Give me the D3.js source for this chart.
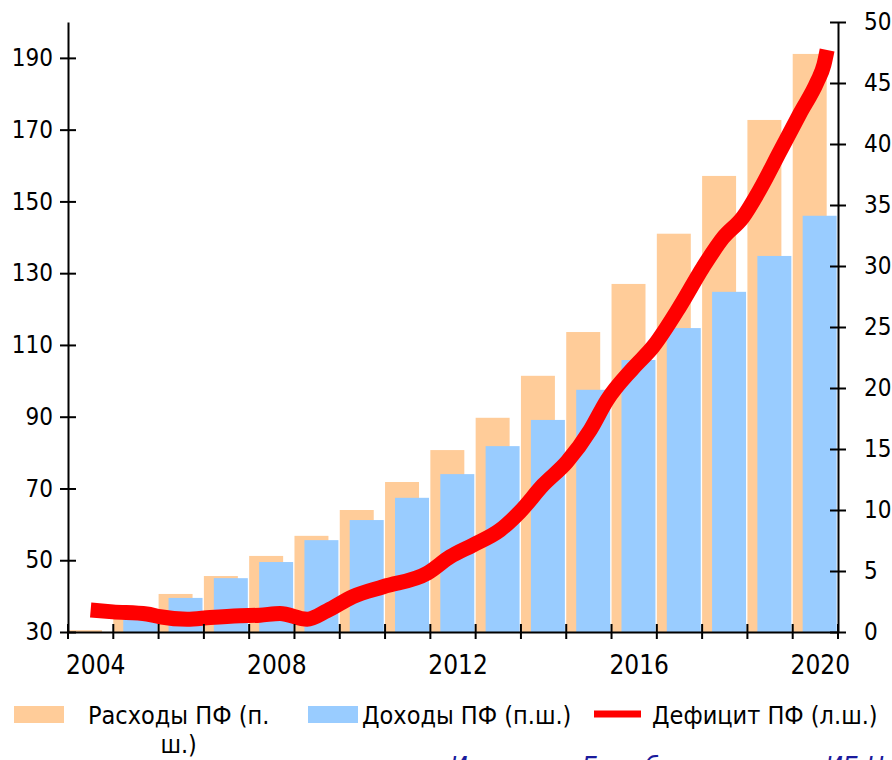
<!DOCTYPE html>
<html>
<head>
<meta charset="utf-8">
<script src="https://cdn.jsdelivr.net/npm/d3@7"></script>
<style>
  body { margin: 0; background: #fff; }
  svg text { font-family: "DejaVu Sans Condensed", "DejaVu Sans", sans-serif; fill: #000; }
</style>
</head>
<body>
<svg id="chart" width="892" height="760"></svg>
<script>
// Pension fund: expenses and revenues (right axis), deficit (left axis)
const years = [2004, 2005, 2006, 2007, 2008, 2009, 2010, 2011, 2012, 2013, 2014, 2015, 2016, 2017, 2018, 2019, 2020];
const expenses = [30.5, 36.5, 40.6, 45.6, 51.2, 56.8, 64.0, 71.8, 80.7, 89.7, 101.4, 113.6, 127.0, 141.0, 157.1, 172.7, 191.1];
const revenues = [29.0, 35.0, 39.5, 45.0, 49.5, 55.6, 61.2, 67.4, 74.0, 81.8, 89.1, 97.5, 105.8, 114.7, 124.8, 134.8, 146.0];

// Deficit, sampled along the time axis (fractional years)
const deficitTime  = [2004.0, 2004.49, 2005.24, 2005.53, 2006.13, 2006.64, 2007.30, 2007.74, 2008.18, 2008.78, 2009.22, 2009.79, 2010.46, 2011.43, 2011.94, 2012.44, 2013.04, 2013.48, 2013.99, 2014.52, 2015.03, 2015.40, 2015.97, 2016.42, 2017.01, 2017.52, 2017.96, 2018.40, 2018.78, 2019.22, 2019.66, 2020.04, 2020.19, 2020.26];
const deficitValue = [1.80, 1.65, 1.48, 1.25, 1.05, 1.19, 1.33, 1.38, 1.52, 1.05, 1.74, 2.90, 3.71, 4.81, 6.17, 7.13, 8.36, 9.86, 12.05, 13.96, 16.56, 19.0, 21.6, 23.4, 26.7, 29.9, 32.3, 34.0, 36.3, 39.4, 42.5, 45.1, 46.5, 47.7];

const leftTicks = [30, 50, 70, 90, 110, 130, 150, 170, 190];
const rightTicks = [0, 5, 10, 15, 20, 25, 30, 35, 40, 45, 50];
const yearLabels = [2004, 2008, 2012, 2016, 2020];

const legendItems = [
  { kind: "rect", color: "#FFCC99", lines: ["Расходы ПФ (п.", "ш.)"] },
  { kind: "rect", color: "#99CCFF", lines: ["Доходы ПФ (п.ш.)"] },
  { kind: "line", color: "#FF0000", lines: ["Дефицит ПФ (л.ш.)"] }
];
const sourceText = "Источник: Блумберг, расчеты ИБ Центр";

const COLORS = { exp: "#FFCC99", rev: "#99CCFF", def: "#FF0000" };
const plot = { left: 68, right: 838, top: 22, bottom: 632 };

const svg = d3.select("#chart");
svg.append("rect").attr("width", 892).attr("height", 760).attr("fill", "#fff");

const x = d3.scaleBand().domain(years).range([plot.left, plot.right]).paddingInner(0).paddingOuter(0);
const bw = x.bandwidth();
const yBars = d3.scaleLinear().domain([30, 200]).range([plot.bottom, plot.top]).clamp(true);
const yDef = d3.scaleLinear().domain([0, 50]).range([plot.bottom, plot.top]);
const xT = d3.scaleLinear().domain([2004, 2020]).range([x(2004) + bw / 2, x(2020) + bw / 2]);

// Bars: expenses behind, revenues shifted right and in front
const barW = bw * 0.75;
svg.append("g").selectAll("rect").data(years).join("rect")
  .attr("x", d => x(d))
  .attr("width", barW)
  .attr("y", (d, i) => yBars(expenses[i]))
  .attr("height", (d, i) => yBars(30) - yBars(expenses[i]))
  .attr("fill", COLORS.exp);

svg.append("g").selectAll("rect").data(years).join("rect")
  .attr("x", d => x(d) + bw * 0.22)
  .attr("width", barW)
  .attr("y", (d, i) => yBars(revenues[i]))
  .attr("height", (d, i) => yBars(30) - yBars(revenues[i]))
  .attr("fill", COLORS.rev);

// Deficit line
const defPts = deficitTime.map((t, i) => [t, deficitValue[i]]);
svg.append("path")
  .datum(defPts)
  .attr("fill", "none")
  .attr("stroke", COLORS.def)
  .attr("stroke-width", 15)
  .attr("stroke-linejoin", "round")
  .attr("stroke-linecap", "butt")
  .attr("d", d3.line().x(d => xT(d[0])).y(d => yDef(d[1])).curve(d3.curveMonotoneX));

// Axes
function styleAxis(g, size) {
  g.select(".domain").attr("stroke", "#000").attr("stroke-width", 2);
  g.selectAll(".tick line").attr("stroke", "#000").attr("stroke-width", 2);
  g.selectAll(".tick text").attr("font-size", size);
}

const gL = svg.append("g").attr("transform", `translate(${plot.left},0)`)
  .call(d3.axisLeft(yBars).tickValues(leftTicks).tickSizeOuter(0).tickSizeInner(8).tickPadding(7).tickFormat(d3.format("d")));
styleAxis(gL, 24);
gL.selectAll(".tick line").attr("x1", 8).attr("x2", -8);

const gR = svg.append("g").attr("transform", `translate(${plot.right},0)`)
  .call(d3.axisRight(yDef).tickValues(rightTicks).tickSizeOuter(0).tickSizeInner(8).tickPadding(18).tickFormat(d3.format("d")));
styleAxis(gR, 24);
gR.selectAll(".tick line").attr("x1", -8).attr("x2", 8);

// X axis: baseline with boundary ticks between years, labels every four years
const gX = svg.append("g").attr("transform", `translate(0,${plot.bottom})`)
  .call(d3.axisBottom(x).tickValues(yearLabels).tickSizeOuter(0).tickSize(0).tickPadding(24));
styleAxis(gX, 26);
gX.selectAll(".tick text").attr("dx", 5);
const bounds = years.map(d => x(d)).concat([plot.right]);
gX.append("g").selectAll("line").data(bounds).join("line")
  .attr("x1", d => d).attr("x2", d => d)
  .attr("y1", -8).attr("y2", 7)
  .attr("stroke", "#000").attr("stroke-width", 2);

// Legend
const legendPos = [
  { sx: 14, tx: 88, w: 50 },
  { sx: 308, tx: 362, w: 50 },
  { sx: 594, tx: 652, w: 47 }
];
const lg = svg.append("g");
legendItems.forEach((item, i) => {
  const p = legendPos[i];
  if (item.kind === "rect") {
    lg.append("rect").attr("x", p.sx).attr("y", 706).attr("width", p.w).attr("height", 17).attr("fill", item.color);
  } else {
    lg.append("line").attr("x1", p.sx).attr("x2", p.sx + p.w).attr("y1", 714).attr("y2", 714)
      .attr("stroke", item.color).attr("stroke-width", 7);
  }
  if (item.lines.length > 1) {
    const first = lg.append("text").attr("font-size", 25).attr("x", p.tx).attr("y", 724).text(item.lines[0]);
    const w = first.node().getComputedTextLength();
    lg.append("text").attr("font-size", 25).attr("x", p.tx + w / 2).attr("y", 753)
      .attr("text-anchor", "middle").text(item.lines[1]);
  } else {
    lg.append("text").attr("font-size", 25).attr("x", p.tx).attr("y", 724).text(item.lines[0]);
  }
});

// Source note at the bottom edge
svg.append("text")
  .attr("x", 450).attr("y", 776)
  .attr("font-size", 26).attr("font-style", "italic")
  .style("fill", "#1a1a9c")
  .text(sourceText);
</script>
</body>
</html>
